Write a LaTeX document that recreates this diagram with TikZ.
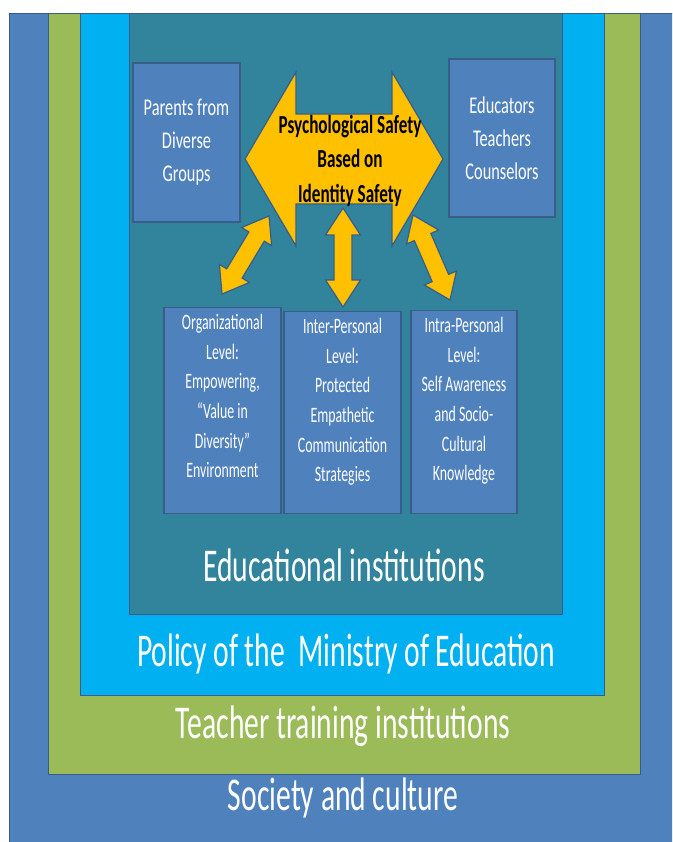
\documentclass[tikz,border=0pt]{standalone}
\usepackage{fontspec}
\usetikzlibrary{calc}

% condensed Calibri-metric faces
\newfontfamily\labelfont[FakeStretch=0.63]{Carlito}
\newfontfamily\groupfont[FakeStretch=0.68]{Carlito}
\newfontfamily\corefont[FakeStretch=0.66]{Carlito}

\definecolor{society}{HTML}{4F81BD}
\definecolor{training}{HTML}{9BBB59}
\definecolor{policy}{HTML}{00B0F0}
\definecolor{school}{HTML}{31849B}
\definecolor{boxfill}{HTML}{4F81BD}
\definecolor{edge}{HTML}{385D8A}
\definecolor{gold}{HTML}{FFC000}

% two-headed block arrow between coordinates #1 and #2
% #3 head length, #4 half head width, #5 half shaft width
\newcommand\blockarrow[5]{%
  \filldraw[goldarrow]
    (#1) -- ($(#1)!#3!(#2)!#4!90:(#2)$) -- ($(#1)!#3!(#2)!#5!90:(#2)$)
    -- ($(#2)!#3!(#1)!#5!-90:(#1)$) -- ($(#2)!#3!(#1)!#4!-90:(#1)$)
    -- (#2) -- ($(#2)!#3!(#1)!#4!90:(#1)$) -- ($(#2)!#3!(#1)!#5!90:(#1)$)
    -- ($(#1)!#3!(#2)!#5!-90:(#2)$) -- ($(#1)!#3!(#2)!#4!-90:(#2)$) -- cycle;}

\begin{document}
\begin{tikzpicture}[x=1pt,y=-1pt,
  layer/.style={draw=edge, line width=1pt},
  box/.style={draw=edge, line width=1.2pt, fill=boxfill, text=white,
    align=center, inner sep=0pt},
  goldarrow/.style={fill=gold, draw=edge, line width=1.2pt, line join=miter},
  layerlabel/.style={text=white, anchor=base, inner sep=0pt,
    font=\labelfont\fontsize{47}{56}\selectfont},
  grouptext/.style={font=\groupfont\fontsize{24}{33}\selectfont},
  coretext/.style={text=black, align=center, inner sep=0pt,
    font=\corefont\bfseries\fontsize{26}{34.5}\selectfont}]
\useasboundingbox (0,0) rectangle (672,842);
\clip (0,0) rectangle (672,842);
\fill[white] (0,0) rectangle (672,842);

% nested contexts
\draw[layer, fill=society]  (9,13.5)    rectangle (700,870);
\draw[layer, fill=training] (48.5,13.5) rectangle (640,774);
\draw[layer, fill=policy]   (80.5,13.5) rectangle (604,695);
\draw[layer, fill=school]   (129.5,13.5) rectangle (562,614);

% stakeholder groups
\node[box, grouptext, minimum width=107pt, minimum height=159pt]
  (parents) at (186.5,142.5) {Parents from\\Diverse\\Groups};
\node[box, grouptext, minimum width=106pt, minimum height=158pt]
  (educators) at (502,138) {Educators\\Teachers\\Counselors};

% levels
\newcommand\levelbox[3]{\parbox[c][#1][t]{#2}{\centering
  \labelfont\fontsize{22}{29.6}\selectfont\rule{0pt}{22pt}#3}}
\node[box, anchor=north] (org) at (222.5,307)
  {\levelbox{206pt}{117pt}{Organizational\\Level:\\Empowering,\\“Value in\\Diversity”\\Environment}};
\node[box, anchor=north] (inter) at (342.5,311)
  {\levelbox{202pt}{117pt}{Inter-Personal\\Level:\\Protected\\Empathetic\\Communication\\Strategies}};
\node[box, anchor=north] (intra) at (464,310)
  {\levelbox{203pt}{106pt}{Intra-Personal\\Level:\\Self Awareness\\and Socio-\\Cultural\\Knowledge}};

% central two-headed arrow
\coordinate (coreL) at (245,159);
\coordinate (coreR) at (443,159);
\blockarrow{coreL}{coreR}{51pt}{87pt}{45pt}
\node[coretext] (core) at (350,160.5)
  {Psychological Safety\\Based on\hspace*{10pt}\\Identity Safety};

% links to the three levels
\coordinate (orgTop)   at (222,294);
\coordinate (coreSW)   at (269,216);
\coordinate (coreS)    at (343,208);
\coordinate (interTop) at (343,307);
\coordinate (coreSE)   at (413,215);
\coordinate (intraTop) at (450,300);
\blockarrow{orgTop}{coreSW}{24pt}{17.5pt}{9pt}
\blockarrow{coreS}{interTop}{27pt}{17.5pt}{9pt}
\blockarrow{coreSE}{intraTop}{24pt}{17.5pt}{9pt}

% context labels
\node[layerlabel] (schoollbl)   at (344,581) {Educational institutions};
\node[layerlabel] (policylbl)   at (346,666) {Policy of the \ Ministry of Education};
\node[layerlabel] (traininglbl) at (343,738) {Teacher training institutions};
\node[layerlabel] (societylbl)  at (343,810) {Society and culture};
\end{tikzpicture}
\end{document}
